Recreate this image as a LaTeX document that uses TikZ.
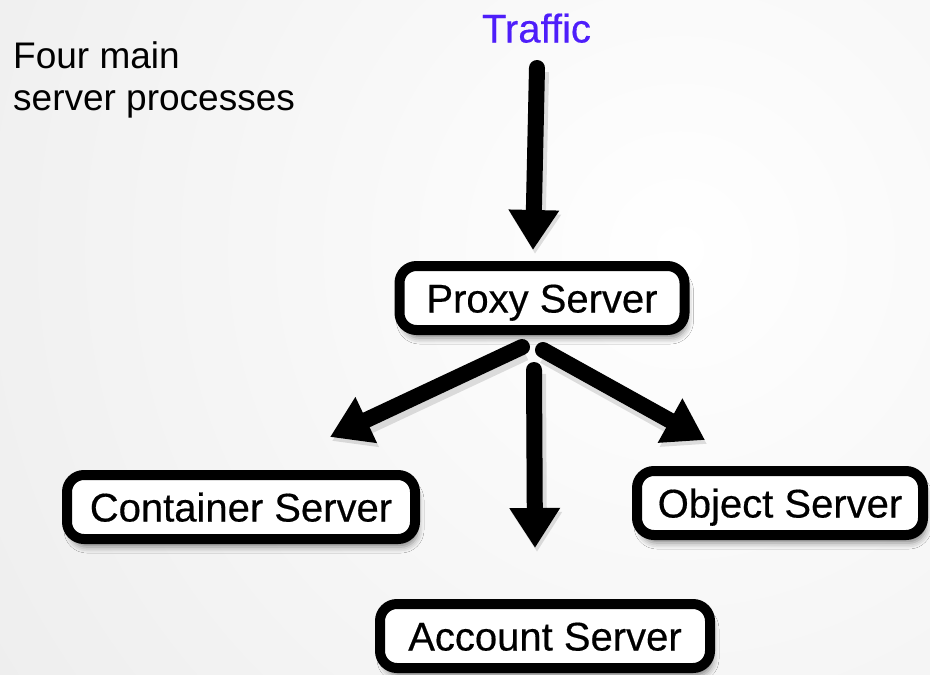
\documentclass[tikz,border=0pt]{standalone}
\usepackage{fontspec}
% the "bold" series is the regular face, only slightly emboldened
\setmainfont{Liberation Sans}[BoldFont={Liberation Sans}, BoldFeatures={FakeBold=0.4}]
\usetikzlibrary{arrows.meta,calc,shadows.blur}
\definecolor{trafficblue}{RGB}{78,30,250}
\begin{document}
\begin{tikzpicture}[x=1pt,y=-1pt,
  box/.style={draw=black, line width=10pt, rounded corners=17pt, fill=white,
    minimum height=64pt, inner sep=0pt, text height=29pt, text depth=0pt,
    font=\fontsize{40}{48}\selectfont\bfseries,
    blur shadow={shadow xshift=3pt, shadow yshift=-8pt,
      shadow blur radius=6pt, shadow opacity=45}},
  flow/.style={line width=16pt, line cap=round,
    -{Triangle[length=40pt,width=48pt]},
    preaction={draw=black, opacity=0.12, line width=20pt,
      transform canvas={shift={(2pt,-4pt)}}}},
  label/.style={inner sep=0pt, font=\fontsize{37}{42}\selectfont}
  ]
\useasboundingbox (0,0) rectangle (930,675);
% soft light-grey backdrop, brightest towards the upper right
\begin{scope}
  \clip (0,0) rectangle (930,675);
  \shade[inner color=white, outer color=black!14] (-1020,-1450) rectangle (2380,1950);
\end{scope}

% caption
\node[label, anchor=base west] (cap1) at (13,68) {Four main};
\node[label, anchor=base west] (cap2) at (13,110) {server processes};

% incoming traffic
\node[inner sep=0pt, text height=29pt, text depth=0pt, text=trafficblue,
  font=\fontsize{40}{48}\selectfont\bfseries] (traffic) at (536.5,28) {Traffic};

% server processes
\node[box, minimum width=285pt] (proxy)     at (542,298) {Proxy Server};
\node[box, minimum width=348pt] (container) at (241,507) {Container Server};
\node[box, minimum width=286pt] (object)    at (780,503) {Object Server};
\node[box, minimum width=330pt] (account)   at (545,636) {Account Server};

% request flow
\draw[flow] ($(traffic)+(0.5,40)$) -- ($(proxy)+(-9,-48)$);
\draw[flow] ($(proxy)+(-20,49)$) -- ($(container)+(89,-70)$);
\draw[flow] ($(proxy)+(1,52)$) -- ($(object)+(-75,-63)$);
\draw[flow] ($(proxy)+(-8,72)$) -- ($(account)+(-10,-88)$);
\end{tikzpicture}
\end{document}
